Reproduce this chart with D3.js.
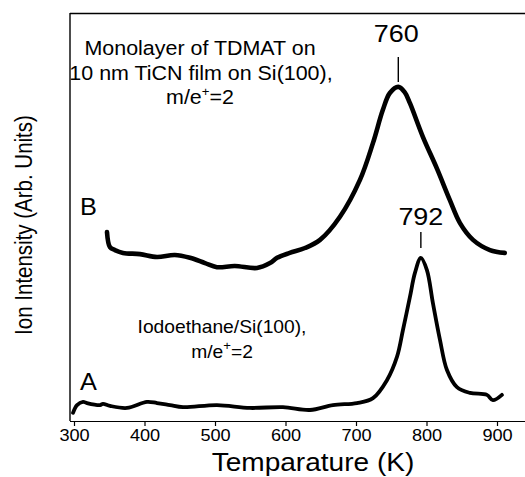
<!DOCTYPE html>
<html>
<head>
<meta charset="utf-8">
<script src="https://cdn.jsdelivr.net/npm/d3@7"></script>
<style>
  html, body { margin: 0; padding: 0; background: #fff; }
  svg { display: block; }
  text { font-family: "Liberation Sans", Arial, Helvetica, sans-serif; fill: #000; }
</style>
</head>
<body>
<svg id="chart" width="525" height="477"></svg>
<script>
// ---- data ----
const xTicks = [300, 400, 500, 600, 700, 800, 900];
const curveA_T = [298.6, 304.3, 312.8, 318.4, 336.9, 341.1, 351.1, 375.2, 403.5, 417.7, 436.2, 454.6, 502.8, 549.6, 596.4, 634.7, 667.3, 701.4, 724.1, 743.9, 758.1, 766.6, 776.5, 783.6, 792, 800.6, 809.1, 819.1, 829, 843.2, 861.6, 885.7, 894.2, 907];
const curveA_I = [2.0, 3.9, 4.7, 4.4, 3.9, 4.2, 3.7, 3.2, 4.7, 4.4, 3.9, 3.4, 3.9, 3.2, 3.4, 2.7, 3.9, 4.4, 5.6, 10.0, 15.7, 22.3, 30.4, 36.3, 40.0, 37.0, 28.9, 19.9, 12.5, 8.3, 6.9, 6.4, 5.1, 6.4];
const curveB_T = [346.8, 351, 358, 369.5, 393.6, 417.7, 443, 464.5, 485.8, 502.8, 528, 559.5, 578, 588, 606, 627.6, 649, 677, 705.6, 724, 738, 748, 760, 769, 776.5, 795, 815, 833, 847.5, 866, 890, 911];
const curveB_I = [46.3, 42.6, 41.9, 41.2, 40.9, 40.2, 40.7, 40.0, 38.7, 37.7, 38.0, 37.5, 38.7, 40.0, 41.2, 42.4, 44.4, 50.0, 59.1, 68.1, 76.2, 80.4, 81.9, 80.6, 77.9, 69.6, 61.8, 54.2, 48.5, 44.4, 41.9, 41.2];
const peakLabels = ["760", "792"];
const peakT = [760, 792];

// ---- layout ----
const svg = d3.select("#chart");
const x = d3.scaleLinear().domain([300, 900]).range([74, 497]);
const y = d3.scaleLinear().domain([0, 100]).range([421, 13]);
const SX = 1.1; // horizontal stretch of the reference lettering

function htext(cx, cy, size, anchor, str) {
  const t = svg.append("text")
    .attr("transform", `translate(${cx},${cy}) scale(${SX},1)`)
    .attr("text-anchor", anchor).style("font-size", size + "px");
  if (str !== undefined) t.text(str);
  return t;
}

// frame: top and left lines, bottom axis
svg.append("line").attr("x1", 70).attr("x2", 525).attr("y1", 13.5).attr("y2", 13.5)
  .attr("stroke", "#000").attr("stroke-width", 1.6);
svg.append("line").attr("x1", 70).attr("x2", 70).attr("y1", 13).attr("y2", 421)
  .attr("stroke", "#000").attr("stroke-width", 1.4);

const xAxis = d3.axisBottom(x).tickValues(xTicks).tickSize(5).tickSizeOuter(0).tickPadding(3);
const gx = svg.append("g").attr("transform", "translate(0,421)").call(xAxis);
gx.select(".domain").attr("d", "M70,0.5H525").attr("stroke-width", 1.2);
gx.selectAll(".tick line").attr("stroke-width", 1.2);
gx.selectAll(".tick text").style("font-size", "16.5px").attr("font-family", null)
  .attr("transform", `scale(${SX},1)`).attr("dy", "0.75em");

// curves
const lineA = d3.line().x((d, i) => x(curveA_T[i])).y(d => y(d)).curve(d3.curveCatmullRom);
const lineB = d3.line().x((d, i) => x(curveB_T[i])).y(d => y(d)).curve(d3.curveCatmullRom);
svg.append("path").attr("d", lineA(curveA_I)).attr("fill", "none").attr("stroke", "#000")
  .attr("stroke-width", 3.8).attr("stroke-linejoin", "round").attr("stroke-linecap", "round");
svg.append("path").attr("d", lineB(curveB_I)).attr("fill", "none").attr("stroke", "#000")
  .attr("stroke-width", 4.6).attr("stroke-linejoin", "round").attr("stroke-linecap", "round");

// peak markers
const peakTop = [57, 232], peakBot = [82, 248], peakTextY = [42, 225];
peakT.forEach((t, i) => {
  svg.append("line").attr("x1", x(t)).attr("x2", x(t)).attr("y1", peakTop[i]).attr("y2", peakBot[i])
    .attr("stroke", "#000").attr("stroke-width", 1.4);
  htext(x(t) - 2 + 2 * i, peakTextY[i], 24.5, "middle", peakLabels[i]);
});

// annotations
function sup(sel, base, supTxt, rest) {
  sel.append("tspan").text(base);
  sel.append("tspan").attr("dy", -8).style("font-size", "12px").text(supTxt);
  sel.append("tspan").attr("dy", 8).text(rest);
}
htext(200, 55, 19.5, "middle", "Monolayer of TDMAT on");
htext(201, 80, 19.5, "middle", "10 nm TiCN film on Si(100),");
sup(htext(200, 104, 19.5, "middle"), "m/e", "+", "=2");

htext(222, 333, 17.5, "middle", "Iodoethane/Si(100),");
sup(htext(222, 358, 17.5, "middle"), "m/e", "+", "=2");

htext(80, 215, 23, "start", "B");
htext(80, 390, 23, "start", "A");

// axis titles
htext(313, 471, 25.5, "middle", "Temparature (K)");
svg.append("text").attr("transform", "translate(32,225) scale(1.18,1) rotate(-90)").attr("text-anchor", "middle")
  .style("font-size", "20.5px").text("Ion Intensity (Arb. Units)");
</script>
</body>
</html>
